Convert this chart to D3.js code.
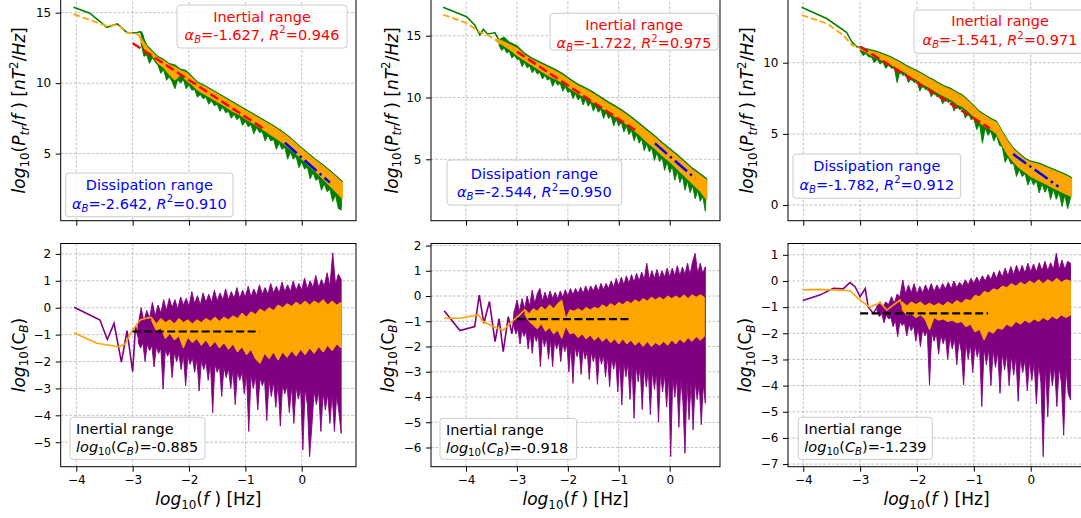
<!DOCTYPE html>
<html>
<head>
<meta charset="utf-8">
<script src="https://cdn.jsdelivr.net/npm/d3@7"></script>
<style>
body { margin: 0; background: #fff; }
svg text { font-family: "DejaVu Sans", sans-serif; white-space: pre; }
</style>
</head>
<body>
<svg id="fig" width="1081" height="518"></svg>
<script>
// ---- shared ----
const xTicks = [-4, -3, -2, -1, 0]

const alphaInertial = [-1.627, -1.722, -1.541]
const r2Inertial = [0.946, 0.975, 0.971]
const alphaDiss = [-2.642, -2.544, -1.782]
const r2Diss = [0.910, 0.950, 0.912]
const logCB = [-0.885, -0.918, -1.239]
const levelRange = [-3, -0.75]

// sampled edges: { from: first log10(f), step: spacing in log10(f), y: values }

// ---- column 1, spectrum ----
const p1GreenLine = [[-4.05,15.38],[-3.76,14.96],[-3.46,13.96],[-3.27,14.2],[-3.1,13.58],[-2.93,13.58],[-2.87,13.65],[-2.81,13.3]]
const p1OrangeLine = [[-4.05,14.9],[-3.46,14.05],[-3.27,14.15],[-3.1,13.6],[-2.95,13.5],[-2.9,13.45]]
const p1GreenHi = [[-2.85,13.65],[-2.75,12.7],[-2.65,12.3],[-2.55,11.9],[-2.45,11.7],[-2.35,11.4],[-2.25,11.3],[-2.15,11.0],[-2.05,10.9],[-1.95,10.5],[-1.85,10.1],[-1.7,9.8],[-1.55,9.45],[-1.4,9.1],[-1.25,8.75],[-1.1,8.4],[-0.95,8.05],[-0.8,7.7],[-0.65,7.35],[-0.5,7.0],[-0.35,6.6],[-0.2,6.15],[-0.05,5.6],[0.1,5.1],[0.25,4.6],[0.4,4.15],[0.55,3.65],[0.72,3.05]]
const p1GreenLo = { from: -2.85, step: 0.05, y: [12.8,11.9,12.0,11.4,11.8,11.5,11.25,10.7,10.95,10.2,10.45,10.1,9.6,10.25,10.0,10.25,9.6,9.9,9.5,9.55,9.0,9.2,8.9,9.0,8.5,8.75,8.4,8.5,8.0,8.3,7.9,8.0,7.5,7.8,7.4,7.6,7.0,7.3,6.9,7.05,6.4,6.85,6.5,6.55,5.9,6.3,5.9,6.0,5.3,5.75,5.3,5.45,4.6,5.1,4.6,4.8,4.0,4.4,3.9,4.05,3.2,3.65,3.1,3.25,2.4,2.85,2.3,2.45,1.6,2.05,1.1,1.0] }
const p1OrangeHi = [[-2.9,13.5],[-2.75,12.6],[-2.65,12.2],[-2.55,11.8],[-2.45,11.6],[-2.35,11.3],[-2.25,11.15],[-2.15,10.9],[-2.05,10.75],[-1.95,10.4],[-1.85,10.0],[-1.7,9.7],[-1.55,9.35],[-1.4,9.0],[-1.25,8.65],[-1.1,8.3],[-0.95,7.95],[-0.8,7.6],[-0.65,7.25],[-0.5,6.9],[-0.35,6.5],[-0.2,6.05],[-0.05,5.5],[0.1,5.0],[0.25,4.5],[0.4,4.05],[0.55,3.55],[0.72,2.95]]
const p1OrangeLo = [[-2.9,13.4],[-2.75,12.1],[-2.65,11.95],[-2.55,11.4],[-2.45,11.1],[-2.35,10.6],[-2.25,10.2],[-2.15,10.6],[-2.05,10.2],[-1.95,9.9],[-1.85,9.5],[-1.7,9.15],[-1.55,8.8],[-1.4,8.45],[-1.25,8.05],[-1.1,7.75],[-0.95,7.35],[-0.8,7.0],[-0.65,6.6],[-0.5,6.2],[-0.35,5.8],[-0.2,5.3],[-0.05,4.8],[0.1,4.25],[0.25,3.7],[0.4,3.1],[0.55,2.5],[0.72,1.8]]
const p1InertialFit = [[-3.0,12.83],[-0.68,6.78]]
const p1DissFit = [[-0.3,5.78],[0.5,2.94]]

// ---- column 1, compensated ----
const p1PurpleLine = [[-4.04,0.02],[-3.76,-0.27],[-3.58,-0.46],[-3.45,-1.18],[-3.33,-0.58],[-3.2,-2.02],[-3.1,-0.85],[-3.0,-2.38],[-2.95,-0.7],[-2.9,-1.1]]
const p1PurpleHi = { from: -2.9, step: 0.05, y: [-0.6,0.0,-0.5,-0.1,-0.4,0.2,-0.3,0.1,-0.2,0.3,-0.1,0.35,0.0,0.3,-0.05,0.4,0.1,0.35,0.05,0.6,0.15,0.45,0.1,0.55,0.2,0.5,0.2,0.65,0.25,0.55,0.3,0.7,0.3,0.6,0.35,0.75,0.35,0.65,0.4,0.8,0.4,0.7,0.45,0.85,0.5,0.75,0.5,0.9,0.55,0.8,0.55,0.95,0.6,0.85,0.6,1.0,0.65,0.9,0.65,1.1,0.7,1.0,0.75,1.2,0.75,1.05,0.8,1.3,0.8,2.04,0.85,1.25,1.05] }
const p1PurpleLo = { from: -2.9, step: 0.04, y: [-1.3,-1.5,-1.3,-2.0,-1.35,-1.6,-1.4,-2.2,-1.45,-1.7,-1.5,-3.03,-1.55,-1.8,-1.6,-2.6,-1.65,-2.0,-1.7,-2.3,-1.75,-2.9,-1.8,-2.1,-1.85,-2.4,-1.9,-3.1,-1.95,-2.3,-2.0,-2.7,-2.05,-3.9,-2.1,-2.4,-2.15,-3.3,-2.2,-2.6,-2.25,-3.0,-2.3,-3.6,-2.35,-2.7,-2.4,-3.2,-2.45,-4.6,-2.5,-3.0,-2.55,-3.8,-2.6,-2.9,-2.65,-4.2,-2.7,-3.3,-2.75,-3.7,-2.8,-4.4,-2.85,-3.2,-2.9,-3.9,-2.9,-4.3,-2.95,-3.4,-3.0,-5.29,-3.0,-3.6,-5.54,-4.4,-3.1,-3.6,-3.1,-4.6,-3.15,-3.8,-3.2,-4.3,-3.2,-4.6,-3.25,-3.9,-4.67] }
const p1SmoothLine = [[-4.04,-0.93],[-3.64,-1.32],[-3.25,-1.45],[-3.13,-1.34],[-3.02,-0.89],[-2.87,-0.46],[-2.78,-0.4],[-2.66,-0.36]]
const p1SmoothHi = { from: -2.66, step: 0.08, y: [-0.36,-0.6,-0.4,-0.55,-0.45,-0.6,-0.4,-0.55,-0.45,-0.6,-0.45,-0.55,-0.4,-0.5,-0.35,-0.5,-0.35,-0.45,-0.3,-0.4,-0.2,-0.35,-0.15,-0.25,-0.05,-0.15,0.0,-0.1,0.1,0.0,0.15,0.05,0.2,0.1,0.25,0.1,0.25,0.15,0.3,0.1,0.25,0.1,0.2] }
const p1SmoothLo = { from: -2.66, step: 0.08, y: [-0.5,-0.85,-0.75,-1.15,-0.95,-1.2,-1.05,-1.5,-1.1,-1.3,-1.15,-1.4,-1.2,-1.45,-1.25,-1.5,-1.3,-1.55,-1.35,-1.65,-1.45,-1.75,-1.55,-1.9,-2.07,-1.7,-1.9,-1.65,-1.95,-1.65,-1.85,-1.6,-1.8,-1.55,-1.75,-1.5,-1.7,-1.45,-1.65,-1.4,-1.6,-1.35,-1.5] }

// ---- column 2, spectrum ----
const p2GreenLine = [[-4.45,17.3],[-3.99,16.54],[-3.83,15.87],[-3.73,15.06],[-3.66,15.52],[-3.58,15.14],[-3.43,15.24],[-3.35,14.6]]
const p2OrangeLine = [[-4.45,16.7],[-3.99,16.03],[-3.73,15.3],[-3.55,15.0],[-3.4,14.6]]
const p2GreenHi = [[-3.35,14.7],[-3.25,14.9],[-3.15,14.5],[-3.0,14.2],[-2.85,13.6],[-2.7,13.2],[-2.55,12.9],[-2.4,12.6],[-2.25,12.3],[-2.1,11.95],[-1.95,11.5],[-1.8,11.1],[-1.65,10.8],[-1.5,10.45],[-1.35,10.05],[-1.2,9.65],[-1.05,9.3],[-0.9,8.9],[-0.75,8.45],[-0.6,7.95],[-0.45,7.45],[-0.3,6.95],[-0.15,6.4],[0,5.9],[0.15,5.4],[0.3,4.85],[0.45,4.3],[0.6,3.85],[0.73,3.45]]
const p2GreenLo = { from: -3.35, step: 0.05, y: [14.2,13.8,14.0,13.6,13.75,13.2,13.4,13.1,13.1,12.5,12.85,12.4,12.55,12.0,12.3,11.9,12.05,11.5,11.8,11.4,11.55,10.9,11.35,11.0,11.15,10.5,10.9,10.4,10.55,9.9,10.3,9.8,10.05,9.4,9.85,9.3,9.6,8.9,9.3,8.8,9.05,8.3,8.8,8.3,8.5,7.7,8.25,7.7,8.0,7.2,7.7,7.0,7.35,6.5,7.0,6.3,6.65,5.7,6.25,5.6,5.9,4.9,5.55,4.8,5.15,4.1,4.8,3.9,4.45,3.3,4.05,3.1,3.65,2.5,3.25,2.3,2.85,1.8,2.45,1.6,2.0,0.8] }
const p2OrangeHi = [[-3.4,14.75],[-3.3,14.6],[-3.15,14.3],[-3.0,14.0],[-2.85,13.45],[-2.7,13.05],[-2.55,12.75],[-2.4,12.45],[-2.25,12.15],[-2.1,11.8],[-1.95,11.35],[-1.8,10.95],[-1.65,10.65],[-1.5,10.3],[-1.35,9.9],[-1.2,9.5],[-1.05,9.15],[-0.9,8.75],[-0.75,8.3],[-0.6,7.8],[-0.45,7.3],[-0.3,6.8],[-0.15,6.25],[0,5.75],[0.15,5.25],[0.3,4.7],[0.45,4.15],[0.6,3.7],[0.73,3.3]]
const p2OrangeLo = [[-3.4,14.5],[-3.3,14.3],[-3.15,13.9],[-3.0,13.4],[-2.85,13.0],[-2.7,12.6],[-2.55,12.2],[-2.4,11.8],[-2.25,11.5],[-2.1,11.2],[-1.95,10.7],[-1.8,10.3],[-1.65,10.0],[-1.5,9.6],[-1.35,9.2],[-1.2,8.8],[-1.05,8.4],[-0.9,8.0],[-0.75,7.5],[-0.6,7.0],[-0.45,6.4],[-0.3,5.9],[-0.15,5.3],[0,4.8],[0.15,4.2],[0.3,3.6],[0.45,3.0],[0.6,2.4],[0.73,1.7]]
const p2InertialFit = [[-3.0,13.71],[-0.68,7.37]]
const p2DissFit = [[-0.29,6.29],[0.5,3.46]]

// ---- column 2, compensated ----
const p2PurpleLine = [[-4.43,-0.58],[-4.12,-1.37],[-3.83,-1.21],[-3.74,0.04],[-3.65,-1.08],[-3.54,-0.22],[-3.43,-1.81],[-3.35,-0.9],[-3.27,-2.2],[-3.17,-0.82],[-3.1,-1.5],[-3.06,-0.9]]
const p2PurpleHi = { from: -3.05, step: 0.05, y: [-0.6,-0.16,-0.6,-0.1,-0.5,0.0,-0.4,0.24,-0.3,0.1,0.3,-0.2,0.15,-0.15,0.2,-0.1,0.15,-0.1,0.2,-0.05,0.25,0.0,0.3,0.05,0.3,0.1,0.35,0.1,0.4,0.15,0.4,0.2,0.45,0.2,0.5,0.25,0.5,0.3,0.6,0.35,0.7,0.4,0.75,0.45,0.8,0.5,0.85,0.55,0.9,0.6,0.95,0.65,1.3,0.65,1.0,0.7,1.05,0.7,1.0,0.75,1.1,0.75,1.1,0.8,1.2,0.8,1.15,0.85,1.3,0.85,1.36,1.69,0.9,1.3,0.9,1.16] }
const p2PurpleLo = { from: -3.06, step: 0.04, y: [-1.2,-1.5,-1.3,-1.9,-1.35,-1.6,-1.4,-2.1,-1.45,-2.27,-1.5,-1.8,-1.55,-2.8,-1.6,-2.0,-1.65,-2.5,-1.7,-2.8,-1.75,-2.1,-1.8,-2.6,-1.85,-2.2,-1.9,-3.0,-1.95,-3.46,-2.0,-2.4,-2.05,-3.1,-2.1,-2.5,-2.15,-3.3,-2.2,-2.6,-2.25,-3.5,-2.3,-2.7,-2.35,-3.2,-2.4,-3.6,-2.45,-2.9,-2.5,-3.8,-2.55,-4.32,-2.6,-3.2,-2.65,-4.1,-2.7,-4.84,-2.75,-3.4,-2.8,-4.5,-2.85,-3.6,-2.9,-4.7,-2.95,-3.7,-3.0,-5.0,-3.05,-3.8,-3.1,-4.4,-3.15,-6.36,-3.2,-4.0,-3.25,-5.2,-3.3,-4.2,-6.23,-3.35,-4.9,-3.4,-5.3,-3.4,-4.1,-3.45,-5.1,-3.5,-4.25] }
const p2SmoothLine = [[-4.43,-0.88],[-4.12,-0.88],[-3.76,-0.75],[-3.66,-1.01],[-3.47,-1.21],[-3.27,-1.35],[-3.1,-1.02],[-2.95,-0.75],[-2.84,-0.53]]
const p2SmoothHi = { from: -2.84, step: 0.08, y: [-0.53,-0.7,-0.5,-0.6,-0.42,-0.55,-0.35,-0.5,-0.3,-0.16,-0.9,-0.55,-0.6,-0.5,-0.6,-0.45,-0.55,-0.45,-0.5,-0.35,-0.45,-0.3,-0.4,-0.25,-0.35,-0.2,-0.3,-0.15,-0.25,-0.1,-0.2,-0.05,-0.15,-0.05,-0.15,0.0,-0.1,0.0,-0.1,0.05,-0.1,0.05,-0.05,0.05,-0.05] }
const p2SmoothLo = { from: -2.84, step: 0.08, y: [-0.75,-1.0,-1.15,-1.3,-1.1,-1.4,-1.25,-1.5,-1.35,-1.68,-1.2,-1.5,-1.45,-1.65,-1.5,-1.7,-1.55,-1.75,-1.6,-1.8,-1.65,-1.85,-1.7,-1.9,-1.7,-1.9,-1.75,-1.95,-1.8,-2.0,-1.8,-2.0,-1.85,-1.95,-1.8,-1.95,-1.75,-1.9,-1.7,-1.85,-1.65,-1.8,-1.6,-1.75,-1.6] }

// ---- column 3, spectrum ----
const p3GreenLine = [[-4.03,13.89],[-3.59,13.1],[-3.24,12.14],[-3.15,11.48],[-3.06,11.12],[-3.0,11.1]]
const p3OrangeLine = [[-4.03,13.35],[-3.59,12.76],[-3.3,11.95],[-3.15,11.27],[-3.0,11.05]]
const p3GreenHi = [[-3.0,11.15],[-2.9,11.0],[-2.8,10.9],[-2.7,10.8],[-2.6,10.65],[-2.5,10.5],[-2.4,10.3],[-2.3,10.1],[-2.2,9.85],[-2.1,9.65],[-2.0,9.45],[-1.9,9.25],[-1.8,9.0],[-1.7,8.8],[-1.6,8.55],[-1.5,8.35],[-1.4,8.2],[-1.3,7.95],[-1.2,7.75],[-1.1,7.4],[-1.0,7.0],[-0.9,6.6],[-0.8,6.35],[-0.7,6.1],[-0.6,5.9],[-0.5,5.2],[-0.4,4.55],[-0.3,4.0],[-0.2,3.65],[-0.1,3.3],[0,3.1],[0.15,2.95],[0.3,2.7],[0.45,2.45],[0.6,2.2],[0.72,1.95]]
const p3GreenLo = { from: -3.0, step: 0.05, y: [10.85,10.5,10.65,10.4,10.4,10.0,10.25,9.9,10.05,9.6,9.85,9.6,9.65,8.6,9.4,9.1,9.2,8.6,8.9,8.6,8.7,8.0,8.4,8.1,8.2,7.6,7.95,7.6,7.7,7.1,7.5,7.2,7.3,6.6,7.0,6.7,6.8,6.1,6.5,6.0,6.1,5.3,5.7,4.35,5.4,4.9,5.2,4.5,4.9,4.2,4.1,3.0,3.4,2.9,2.9,2.0,2.5,2.0,2.2,1.4,1.9,1.4,1.7,0.85,1.5,0.9,1.3,0.4,1.1,0.4,0.9,-0.1,0.7,-0.25,0.5] }
const p3OrangeHi = [[-3.0,11.05],[-2.9,10.9],[-2.8,10.8],[-2.7,10.7],[-2.6,10.55],[-2.5,10.4],[-2.4,10.2],[-2.3,10.0],[-2.2,9.75],[-2.1,9.55],[-2.0,9.35],[-1.9,9.15],[-1.8,8.9],[-1.7,8.7],[-1.6,8.45],[-1.5,8.25],[-1.4,8.1],[-1.3,7.85],[-1.2,7.65],[-1.1,7.3],[-1.0,6.9],[-0.9,6.5],[-0.8,6.25],[-0.7,6.0],[-0.6,5.8],[-0.5,5.1],[-0.4,4.45],[-0.3,3.9],[-0.2,3.55],[-0.1,3.2],[0,3.0],[0.15,2.85],[0.3,2.6],[0.45,2.35],[0.6,2.1],[0.72,1.85]]
const p3OrangeLo = [[-3.0,10.95],[-2.9,10.75],[-2.8,10.5],[-2.7,10.35],[-2.6,10.15],[-2.5,9.95],[-2.4,9.75],[-2.3,9.5],[-2.2,9.3],[-2.1,9.0],[-2.0,8.8],[-1.9,8.5],[-1.8,8.3],[-1.7,8.05],[-1.6,7.8],[-1.5,7.6],[-1.4,7.4],[-1.3,7.1],[-1.2,6.9],[-1.1,6.6],[-1.0,6.2],[-0.9,5.8],[-0.8,5.5],[-0.7,5.3],[-0.6,5.0],[-0.5,4.2],[-0.4,3.5],[-0.3,3.0],[-0.2,2.6],[-0.1,2.3],[0,2.0],[0.15,1.7],[0.3,1.4],[0.45,1.1],[0.6,0.8],[0.72,0.6]]
const p3InertialFit = [[-3.0,11.12],[-0.72,5.39]]
const p3DissFit = [[-0.31,3.58],[0.49,1.29]]

// ---- column 3, compensated ----
const p3PurpleLine = [[-4.01,-0.75],[-3.71,-0.54],[-3.47,-0.28],[-3.3,-0.3],[-3.18,-0.06],[-3.09,-0.22],[-3.0,-0.6],[-2.91,-0.29],[-2.86,-0.98],[-2.77,-1.24],[-2.7,-1.0]]
const p3PurpleHi = { from: -2.7, step: 0.05, y: [-0.95,-0.79,-1.0,-0.8,-0.9,-0.6,-0.85,-0.5,-0.6,0.04,-0.5,-0.15,-0.45,-0.1,-0.5,-0.2,-0.45,-0.15,-0.4,-0.1,-0.4,-0.15,-0.35,-0.1,-0.3,-0.05,-0.3,0.0,-0.25,-0.05,-0.2,0.05,-0.15,0.1,-0.1,0.15,-0.05,0.2,0.0,0.25,0.05,0.35,0.1,0.4,0.15,0.49,0.2,0.55,0.25,0.6,0.3,0.6,0.3,0.68,0.35,0.65,0.35,0.7,0.4,0.75,0.4,0.7,0.45,1.06,0.45,0.8,0.45,0.75,0.68] }
const p3PurpleLo = { from: -2.7, step: 0.04, y: [-1.2,-1.36,-1.25,-1.6,-1.3,-1.45,-1.4,-1.75,-1.5,-2.13,-1.55,-1.7,-1.6,-2.1,-1.65,-1.9,-1.7,-2.3,-1.8,-2.51,-1.85,-2.1,-1.9,-3.98,-1.95,-2.3,-2.0,-2.8,-2.05,-2.4,-2.1,-3.0,-2.15,-2.6,-2.2,-3.2,-2.25,-2.7,-3.98,-2.35,-3.0,-2.4,-3.5,-2.45,-2.9,-2.5,-4.8,-2.55,-3.2,-2.6,-4.0,-2.65,-3.3,-2.7,-4.3,-2.75,-3.4,-2.8,-4.0,-2.85,-3.6,-2.9,-4.6,-2.95,-3.5,-3.0,-4.2,-3.05,-3.8,-3.1,-4.7,-3.15,-3.9,-6.72,-3.2,-5.19,-3.25,-4.0,-3.3,-4.8,-3.3,-3.9,-5.9,-3.35,-4.3,-4.55] }
const p3SmoothLine = [[-4.01,-0.34],[-3.71,-0.32],[-3.18,-0.37],[-3.0,-0.73],[-2.83,-1.0],[-2.65,-0.83],[-2.53,-1.11],[-2.3,-0.73],[-2.26,-0.95]]
const p3SmoothHi = { from: -2.26, step: 0.08, y: [-0.8,-0.95,-0.8,-0.9,-0.8,-0.95,-0.85,-0.95,-0.85,-0.95,-0.8,-0.9,-0.75,-0.85,-0.7,-0.75,-0.55,-0.6,-0.4,-0.45,-0.3,-0.35,-0.2,-0.25,-0.1,-0.2,-0.05,-0.15,0.0,-0.1,0.05,-0.1,0.05,-0.05,0.1,-0.05,0.05,0.0] }
const p3SmoothLo = { from: -2.26, step: 0.08, y: [-1.1,-1.3,-1.25,-1.4,-1.3,-1.45,-1.87,-1.4,-1.5,-1.45,-1.55,-1.5,-1.6,-1.55,-1.75,-1.65,-1.95,-1.85,-2.26,-1.9,-2.0,-1.8,-1.85,-1.65,-1.75,-1.55,-1.65,-1.5,-1.6,-1.45,-1.55,-1.4,-1.5,-1.35,-1.45,-1.3,-1.4,-1.3] }

// ---- layout ----
const columns = [
    {
        left: 60.7, right: 356, xd: [-4.277, 0.963],
        top: { yd: [0.238, 17.32], ticks: [5, 10, 15], labelX: 25,
               greenLine: p1GreenLine, orangeLine: p1OrangeLine, greenHi: p1GreenHi, greenLo: p1GreenLo,
               orangeHi: p1OrangeHi, orangeLo: p1OrangeLo, fitA: p1InertialFit, fitB: p1DissFit,
               boxA: [177, 5, 347, 48, 22, 39.5], boxB: [65.7, 173, 233, 216.7, 190, 208.5] },
        bot: { yd: [-5.91, 2.387], ticks: d3.range(-5, 3), labelX: 24.5,
               purpleLine: p1PurpleLine, purpleHi: p1PurpleHi, purpleLo: p1PurpleLo,
               smoothLine: p1SmoothLine, smoothHi: p1SmoothHi, smoothLo: p1SmoothLo,
               box: [70, 417.3, 205, 459.3, 434, 452] }
    },
    {
        left: 431, right: 720, xd: [-4.688, 0.988],
        top: { yd: [0.032, 19.51], ticks: [5, 10, 15], labelX: 397.5,
               greenLine: p2GreenLine, orangeLine: p2OrangeLine, greenHi: p2GreenHi, greenLo: p2GreenLo,
               orangeHi: p2OrangeHi, orangeLo: p2OrangeLo, fitA: p2InertialFit, fitB: p2DissFit,
               boxA: [550, 13.3, 718, 50, 30, 48.3], boxB: [447, 160, 621.7, 205, 178.5, 197] },
        bot: { yd: [-6.76, 2.08], ticks: d3.range(-6, 3), labelX: 393.5,
               purpleLine: p2PurpleLine, purpleHi: p2PurpleHi, purpleLo: p2PurpleLo,
               smoothLine: p2SmoothLine, smoothHi: p2SmoothHi, smoothLo: p2SmoothLo,
               box: [440, 418.3, 576.7, 459.3, 435, 453] }
    },
    {
        left: 788, right: 1085, xd: [-4.269, 0.955],
        top: { yd: [-1.10, 15.81], ticks: [0, 5, 10], labelX: 753,
               greenLine: p3GreenLine, orangeLine: p3OrangeLine, greenHi: p3GreenHi, greenLo: p3GreenLo,
               orangeHi: p3OrangeHi, orangeLo: p3OrangeLo, fitA: p3InertialFit, fitB: p3DissFit,
               boxA: [914, 10, 1086, 53.3, 26, 45], boxB: [793, 154, 960.7, 198.3, 170.5, 189.5] },
        bot: { yd: [-7.10, 1.433], ticks: d3.range(-7, 2), labelX: 751,
               purpleLine: p3PurpleLine, purpleHi: p3PurpleHi, purpleLo: p3PurpleLo,
               smoothLine: p3SmoothLine, smoothHi: p3SmoothHi, smoothLo: p3SmoothLo,
               box: [798.3, 417.3, 932.3, 459.3, 434, 452] }
    }
]
const TOP_Y0 = -20, TOP_Y1 = 220.7, BOT_Y0 = 243.5, BOT_Y1 = 466.7

const svg = d3.select('#fig')

// turn a sampled edge into [x, y] pairs; plain pair lists pass through
const pts = (e) => Array.isArray(e) ? e : e.y.map((v, i) => [e.from + i * e.step, v])

// mathtext-like pieces: '' normal, 'i' italic, 'sub', 'isub', 'sup'
const rich = (text, parts, size) => {
    let shift = 0
    parts.forEach(([t, k]) => {
        const sub = k.includes('sub'), sup = k.includes('sup')
        const target = sub ? 0.22 * size : sup ? -0.42 * size : 0
        text.append('tspan').text(t)
            .attr('dy', target - shift)
            .attr('font-size', (sub || sup) ? size * 0.7 : size)
            .attr('font-style', k.includes('i') ? 'italic' : 'normal')
        shift = target
    })
}

const drawGrid = (g, x, y, yTicks, y0, y1, left, right) => {
    const grid = g.append('g')
    xTicks.forEach(t => grid.append('line')
        .attr('x1', x(t)).attr('x2', x(t)).attr('y1', y0).attr('y2', y1))
    yTicks.forEach(t => grid.append('line')
        .attr('x1', left).attr('x2', right).attr('y1', y(t)).attr('y2', y(t)))
    grid.selectAll('line').attr('stroke', '#b0b0b0').attr('stroke-width', 0.8)
        .attr('stroke-dasharray', '2.6,1.8')
}

const styleAxis = (a) => {
    a.attr('font-family', null).attr('font-size', null)
    a.select('.domain').remove()
    a.selectAll('.tick line').attr('stroke', '#000').attr('stroke-width', 1)
    a.selectAll('.tick text').attr('fill', '#000').attr('font-size', 12)
}

const polygon = (line, hi, lo) => line(pts(hi).concat(pts(lo).slice().reverse())) + 'Z'
const fmt = d3.format('d')

columns.forEach((c, ci) => {
    const x = d3.scaleLinear().domain(c.xd).range([c.left, c.right])

    // ---------- top: spectrum ----------
    const t = c.top
    const yT = d3.scaleLinear().domain(t.yd).range([TOP_Y1, TOP_Y0])
    const gT = svg.append('g')
    const clipT = 'clipT' + ci
    gT.append('clipPath').attr('id', clipT).append('rect')
        .attr('x', c.left).attr('y', TOP_Y0).attr('width', c.right - c.left).attr('height', TOP_Y1 - TOP_Y0)
    drawGrid(gT, x, yT, t.ticks, TOP_Y0, TOP_Y1, c.left, c.right)
    const lineT = d3.line().x(d => x(d[0])).y(d => yT(d[1]))
    const pT = gT.append('g').attr('clip-path', `url(#${clipT})`)
    pT.append('path').attr('d', polygon(lineT, t.greenHi, t.greenLo))
        .attr('fill', 'green').attr('stroke', 'green').attr('stroke-width', 0.9)
    pT.append('path').attr('d', lineT(t.greenLine.concat([pts(t.greenHi)[0]])))
        .attr('fill', 'none').attr('stroke', 'green').attr('stroke-width', 1.6)
    pT.append('path').attr('d', polygon(lineT, t.orangeHi, t.orangeLo))
        .attr('fill', 'orange').attr('stroke', 'orange').attr('stroke-width', 1)
    pT.append('path').attr('d', lineT(t.orangeLine))
        .attr('fill', 'none').attr('stroke', 'orange').attr('stroke-width', 1.8)
        .attr('stroke-dasharray', '6.7,2.9')
    pT.append('path').attr('d', lineT(t.fitA))
        .attr('fill', 'none').attr('stroke', 'red').attr('stroke-width', 2.5)
        .attr('stroke-dasharray', '9.25,4')
    pT.append('path').attr('d', lineT(t.fitB))
        .attr('fill', 'none').attr('stroke', 'blue').attr('stroke-width', 2.5)
        .attr('stroke-dasharray', '16,4,2.5,4')

    const axL = gT.append('g').attr('transform', `translate(${c.left},0)`)
        .call(d3.axisLeft(yT).tickValues(t.ticks).tickSize(5).tickPadding(4.5).tickFormat(fmt))
    styleAxis(axL)
    const axB = gT.append('g').attr('transform', `translate(0,${TOP_Y1})`)
        .call(d3.axisBottom(x).tickValues(xTicks).tickSize(5).tickFormat(''))
    styleAxis(axB)
    gT.append('rect').attr('x', c.left).attr('y', TOP_Y0).attr('width', c.right - c.left)
        .attr('height', TOP_Y1 - TOP_Y0).attr('fill', 'none').attr('stroke', '#000').attr('stroke-width', 1)

    const label = gT.append('text').attr('text-anchor', 'middle')
        .attr('transform', `translate(${t.labelX},${TOP_Y1 / 2}) rotate(-90)`)
    rich(label, [['log', 'i'], ['10', 'sub'], ['(', ''], ['P', 'i'], ['tr', 'isub'], ['/', ''], ['f', 'i'],
        [' )', ''], [' [', ''], ['nT', 'i'], ['2', 'sup'], ['/', ''], ['Hz', 'i'], [']', '']], 17)

    const fitBox = (b, color, title, a, r2) => {
        gT.append('rect').attr('x', b[0]).attr('y', b[1]).attr('width', b[2] - b[0]).attr('height', b[3] - b[1])
            .attr('rx', 3).attr('fill', 'white').attr('fill-opacity', 0.8)
            .attr('stroke', '#cccccc').attr('stroke-width', 1)
        const cx = (b[0] + b[2]) / 2
        gT.append('text').attr('x', cx).attr('y', b[4]).attr('text-anchor', 'middle')
            .attr('fill', color).attr('font-size', 14.5).text(title)
        const tx = gT.append('text').attr('x', cx).attr('y', b[5]).attr('text-anchor', 'middle').attr('fill', color)
        rich(tx, [['α', 'i'], ['B', 'isub'], ['=' + a.toFixed(3) + ', ', ''], ['R', 'i'], ['2', 'sup'],
            ['=' + r2.toFixed(3), '']], 14.5)
    }
    fitBox(t.boxA, 'red', 'Inertial range', alphaInertial[ci], r2Inertial[ci])
    fitBox(t.boxB, 'blue', 'Dissipation range', alphaDiss[ci], r2Diss[ci])

    // ---------- bottom: compensated ----------
    const b = c.bot
    const yB = d3.scaleLinear().domain(b.yd).range([BOT_Y1, BOT_Y0])
    const gB = svg.append('g')
    const clipB = 'clipB' + ci
    gB.append('clipPath').attr('id', clipB).append('rect')
        .attr('x', c.left).attr('y', BOT_Y0).attr('width', c.right - c.left).attr('height', BOT_Y1 - BOT_Y0)
    drawGrid(gB, x, yB, b.ticks, BOT_Y0, BOT_Y1, c.left, c.right)
    const lineB = d3.line().x(d => x(d[0])).y(d => yB(d[1]))
    const pB = gB.append('g').attr('clip-path', `url(#${clipB})`)
    pB.append('path').attr('d', polygon(lineB, b.purpleHi, b.purpleLo))
        .attr('fill', 'purple').attr('stroke', 'purple').attr('stroke-width', 0.9)
    pB.append('path').attr('d', lineB(b.purpleLine.concat([pts(b.purpleHi)[0]])))
        .attr('fill', 'none').attr('stroke', 'purple').attr('stroke-width', 1.6)
    pB.append('path').attr('d', polygon(lineB, b.smoothHi, b.smoothLo))
        .attr('fill', 'orange').attr('stroke', 'orange').attr('stroke-width', 1)
    pB.append('path').attr('d', lineB(b.smoothLine))
        .attr('fill', 'none').attr('stroke', 'orange').attr('stroke-width', 1.6)
    pB.append('path').attr('d', lineB(levelRange.map(v => [v, logCB[ci]])))
        .attr('fill', 'none').attr('stroke', '#000').attr('stroke-width', 2.2)
        .attr('stroke-dasharray', '8,3.5')

    const axL2 = gB.append('g').attr('transform', `translate(${c.left},0)`)
        .call(d3.axisLeft(yB).tickValues(b.ticks).tickSize(5).tickPadding(4.5).tickFormat(fmt))
    styleAxis(axL2)
    const axB2 = gB.append('g').attr('transform', `translate(0,${BOT_Y1})`)
        .call(d3.axisBottom(x).tickValues(xTicks).tickSize(5).tickPadding(3.5).tickFormat(fmt))
    styleAxis(axB2)
    gB.append('rect').attr('x', c.left).attr('y', BOT_Y0).attr('width', c.right - c.left)
        .attr('height', BOT_Y1 - BOT_Y0).attr('fill', 'none').attr('stroke', '#000').attr('stroke-width', 1)

    const label2 = gB.append('text').attr('text-anchor', 'middle')
        .attr('transform', `translate(${b.labelX},${(BOT_Y0 + BOT_Y1) / 2}) rotate(-90)`)
    rich(label2, [['log', 'i'], ['10', 'sub'], ['(C', ''], ['B', 'isub'], [')', '']], 17)

    const xl = gB.append('text').attr('text-anchor', 'middle')
        .attr('x', (c.left + c.right) / 2).attr('y', 505)
    rich(xl, [['log', 'i'], ['10', 'sub'], ['(', ''], ['f', 'i'], [' ) [Hz]', '']], 17)

    const bx = b.box
    gB.append('rect').attr('x', bx[0]).attr('y', bx[1]).attr('width', bx[2] - bx[0]).attr('height', bx[3] - bx[1])
        .attr('rx', 3).attr('fill', 'white').attr('fill-opacity', 0.8)
        .attr('stroke', '#cccccc').attr('stroke-width', 1)
    gB.append('text').attr('x', bx[0] + 6).attr('y', bx[4]).attr('font-size', 14.5)
        .attr('fill', '#000').text('Inertial range')
    const lt = gB.append('text').attr('x', bx[0] + 6).attr('y', bx[5]).attr('fill', '#000')
    rich(lt, [['log', 'i'], ['10', 'sub'], ['(', ''], ['C', 'i'], ['B', 'isub'],
        [')=' + logCB[ci].toFixed(3), '']], 14.5)
})
</script>
</body>
</html>
